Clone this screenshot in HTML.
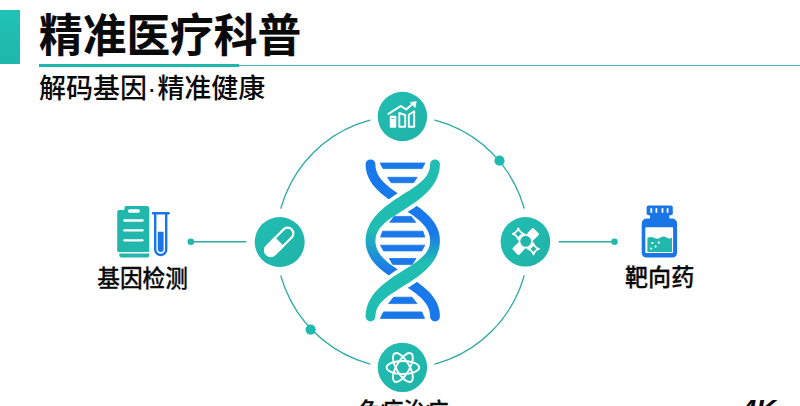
<!DOCTYPE html>
<html lang="zh-CN">
<head>
<meta charset="utf-8">
<title>精准医疗科普</title>
<style>
html,body{margin:0;padding:0;background:#fff;}
body{width:800px;height:406px;overflow:hidden;position:relative;font-family:"Liberation Sans","Noto Sans CJK SC",sans-serif;color:#0a0a0a;}
.bar{position:absolute;left:0;top:9.8px;width:20.2px;height:54.3px;background:linear-gradient(180deg,#21c2b6,#1fb7ab);}
.rule{position:absolute;left:39px;top:63.6px;width:200.3px;height:3px;background:#20b5ab;}
.rule2{position:absolute;left:39px;top:64.6px;width:761px;height:1px;background:#40b8bc;}
.title{position:absolute;left:39px;top:4.7px;font-size:43.7px;font-weight:700;line-height:64px;white-space:nowrap;transform:scaleY(1.04);transform-origin:0 51px;-webkit-text-stroke:0.15px #0a0a0a;}
.sub{position:absolute;left:39px;top:69.3px;font-size:27px;font-weight:500;line-height:40px;white-space:nowrap;transform:scaleY(1.03);transform-origin:0 31px;}
.lbl{position:absolute;font-size:23.4px;font-weight:500;-webkit-text-stroke:0.25px #0a0a0a;line-height:30px;white-space:nowrap;transform:translateX(-50%) scaleY(1.035);transform-origin:50% 25px;}
.k4{position:absolute;left:741.3px;top:395.2px;font-size:27px;font-weight:700;font-style:italic;line-height:30px;}
svg{position:absolute;left:0;top:0;}
</style>
</head>
<body>
<div class="bar"></div>
<div class="rule2"></div>
<div class="rule"></div>
<div class="title">精准医疗科普</div>
<div class="sub">解码基因<span style="margin:0 1.2px 0 0.2px">·</span>精准健康</div>

<svg width="800" height="406" viewBox="0 0 800 406">
<defs>
<linearGradient id="gA" gradientUnits="userSpaceOnUse" x1="0" y1="234" x2="0" y2="262">
<stop offset="0" stop-color="#1a79ea"/><stop offset="1" stop-color="#20bdb2"/>
</linearGradient>
<linearGradient id="gB" gradientUnits="userSpaceOnUse" x1="0" y1="230" x2="0" y2="270">
<stop offset="0" stop-color="#20bdb2"/><stop offset="1" stop-color="#1a79ea"/>
</linearGradient>
<linearGradient id="gBlue" gradientUnits="userSpaceOnUse" x1="0" y1="160" x2="0" y2="322">
<stop offset="0" stop-color="#1a79ea"/><stop offset="1" stop-color="#1a77e8"/>
</linearGradient>
<linearGradient id="gCirc" x1="0" y1="0" x2="1" y2="1">
<stop offset="0" stop-color="#22bdb2"/><stop offset="1" stop-color="#1fb3a9"/>
</linearGradient>
<clipPath id="cx1"><rect x="360" y="184" width="90" height="37"/></clipPath>
<clipPath id="cx2"><rect x="360" y="260" width="90" height="37"/></clipPath>
</defs>

<!-- ring -->
<g fill="none" stroke="#2aa9a6" stroke-width="1.3">
<circle cx="402.5" cy="242" r="126.2" stroke-dasharray="none"/>
</g>
<!-- white masks around small circles to create gaps -->
<g fill="#fff">
<circle cx="402.4" cy="116.5" r="32.3"/>
<circle cx="402.4" cy="367.4" r="32.3"/>
<circle cx="279.7" cy="242" r="33.6"/>
<circle cx="525.4" cy="242" r="33.6"/>
</g>
<!-- connectors -->
<g stroke="#2aa9a6" stroke-width="1.5" fill="#20b9ae">
<line x1="190.8" y1="241.7" x2="246.3" y2="241.7"/>
<line x1="558.6" y1="241.7" x2="614.5" y2="241.7"/>
</g>
<g fill="#20b9ae">
<circle cx="190.8" cy="241.8" r="3.3"/>
<circle cx="614.5" cy="241.8" r="3.3"/>
<circle cx="499.5" cy="160.7" r="5.1"/>
<circle cx="310.6" cy="329.7" r="5.1"/>
</g>
<!-- node circles -->
<g fill="url(#gCirc)">
<circle cx="402.4" cy="116.5" r="24.7"/>
<circle cx="402.4" cy="367.4" r="24.7"/>
<circle cx="279.7" cy="242" r="25"/>
<circle cx="525.4" cy="241.8" r="24.8"/>
</g>

<!-- DNA -->
<g>
<g stroke-linejoin="round">
<path d="M365.60 164.30A4.90 4.90 0 0 1 375.40 164.30L375.50 166.42L375.78 168.43L376.25 170.36L376.88 172.22L377.68 174.04L378.65 175.81L379.78 177.55L381.07 179.26L382.50 180.94L384.09 182.61L385.81 184.24L387.65 185.86L389.60 187.46L391.66 189.04L393.81 190.60L396.03 192.16L398.32 193.70L400.67 195.25L403.05 196.79L405.46 198.35L407.88 199.91L410.31 201.49L412.73 203.09L415.13 204.72L417.49 206.39L419.82 208.10L422.08 209.86L424.28 211.67L426.40 213.56L428.43 215.51L430.35 217.55L432.15 219.69L433.81 221.92L435.31 224.27L436.64 226.74L437.77 229.32L438.68 232.02L439.35 234.84L439.76 237.77L439.90 240.80L439.77 243.83L439.39 246.76L438.77 249.59L437.92 252.32L436.86 254.95L435.61 257.47L434.18 259.89L432.59 262.22L430.86 264.45L429.01 266.59L427.04 268.65L424.97 270.63L422.82 272.54L420.59 274.39L418.29 276.17L415.95 277.89L413.57 279.57L411.17 281.19L408.75 282.77L406.33 284.32L403.91 285.83L401.52 287.31L399.17 288.77L396.86 290.22L394.61 291.66L392.43 293.10L390.34 294.54L388.34 295.99L386.44 297.46L384.66 298.94L383.02 300.46L381.51 302.01L380.15 303.60L378.94 305.23L377.90 306.92L377.03 308.67L376.34 310.48L375.82 312.39L375.51 314.39L375.40 316.50A4.90 4.90 0 0 1 365.60 316.50L365.73 313.47L366.11 310.54L366.73 307.71L367.58 304.98L368.64 302.35L369.89 299.83L371.32 297.41L372.91 295.08L374.64 292.85L376.49 290.71L378.46 288.65L380.53 286.67L382.68 284.76L384.91 282.91L387.21 281.13L389.55 279.41L391.93 277.73L394.33 276.11L396.75 274.53L399.17 272.98L401.59 271.47L403.98 269.99L406.33 268.53L408.64 267.08L410.89 265.64L413.07 264.20L415.16 262.76L417.16 261.31L419.06 259.84L420.84 258.36L422.48 256.84L423.99 255.29L425.35 253.70L426.56 252.07L427.60 250.38L428.47 248.63L429.16 246.82L429.68 244.91L429.99 242.91L430.10 240.80L430.00 238.68L429.72 236.67L429.25 234.74L428.62 232.88L427.82 231.06L426.85 229.29L425.72 227.55L424.43 225.84L423.00 224.16L421.41 222.49L419.69 220.86L417.85 219.24L415.90 217.64L413.84 216.06L411.69 214.50L409.47 212.94L407.18 211.40L404.83 209.85L402.45 208.31L400.04 206.75L397.62 205.19L395.19 203.61L392.77 202.01L390.37 200.38L388.01 198.71L385.68 197.00L383.42 195.24L381.22 193.43L379.10 191.54L377.07 189.59L375.15 187.55L373.35 185.41L371.69 183.18L370.19 180.83L368.86 178.36L367.73 175.78L366.82 173.08L366.15 170.26L365.74 167.33L365.60 164.30Z" fill="url(#gA)"/>
<path d="M430.10 164.30A4.90 4.90 0 0 1 439.90 164.30L439.77 167.33L439.39 170.27L438.77 173.10L437.92 175.84L436.86 178.47L435.62 181.01L434.19 183.44L432.61 185.78L430.88 188.03L429.03 190.19L427.07 192.27L425.00 194.27L422.85 196.21L420.63 198.08L418.34 199.89L416.00 201.64L413.62 203.35L411.22 205.00L408.80 206.61L406.38 208.18L403.96 209.73L401.57 211.24L399.22 212.73L396.91 214.21L394.65 215.68L392.47 217.14L390.37 218.61L388.37 220.09L386.47 221.58L384.69 223.09L383.04 224.63L381.53 226.21L380.16 227.82L378.95 229.47L377.91 231.17L377.03 232.94L376.34 234.77L375.83 236.68L375.51 238.68L375.40 240.80L375.50 242.91L375.78 244.92L376.25 246.84L376.88 248.69L377.68 250.49L378.64 252.25L379.77 253.97L381.05 255.66L382.49 257.32L384.07 258.96L385.78 260.57L387.62 262.16L389.57 263.74L391.63 265.29L393.78 266.83L396.00 268.35L398.29 269.87L400.63 271.38L403.01 272.90L405.42 274.42L407.84 275.95L410.27 277.50L412.69 279.08L415.09 280.68L417.46 282.32L419.78 284.00L422.05 285.73L424.26 287.52L426.38 289.38L428.41 291.32L430.33 293.34L432.13 295.45L433.80 297.67L435.31 300.01L436.64 302.46L437.77 305.03L438.68 307.73L439.35 310.55L439.76 313.47L439.90 316.50A4.90 4.90 0 0 1 430.10 316.50L430.00 314.39L429.72 312.38L429.25 310.46L428.62 308.61L427.82 306.81L426.86 305.05L425.73 303.33L424.45 301.64L423.01 299.98L421.43 298.34L419.72 296.73L417.88 295.14L415.93 293.56L413.87 292.01L411.72 290.47L409.50 288.95L407.21 287.43L404.87 285.92L402.49 284.40L400.08 282.88L397.66 281.35L395.23 279.80L392.81 278.22L390.41 276.62L388.04 274.98L385.72 273.30L383.45 271.57L381.24 269.78L379.12 267.92L377.09 265.98L375.17 263.96L373.37 261.85L371.70 259.63L370.19 257.29L368.86 254.84L367.73 252.27L366.82 249.57L366.15 246.75L365.74 243.83L365.60 240.80L365.73 237.77L366.11 234.83L366.73 232.00L367.58 229.26L368.64 226.63L369.88 224.09L371.31 221.66L372.89 219.32L374.62 217.07L376.47 214.91L378.43 212.83L380.50 210.83L382.65 208.89L384.87 207.02L387.16 205.21L389.50 203.46L391.88 201.75L394.28 200.10L396.70 198.49L399.12 196.92L401.54 195.37L403.93 193.86L406.28 192.37L408.59 190.89L410.85 189.42L413.03 187.96L415.13 186.49L417.13 185.01L419.03 183.52L420.81 182.01L422.46 180.47L423.97 178.89L425.34 177.28L426.55 175.63L427.59 173.93L428.47 172.16L429.16 170.33L429.67 168.42L429.99 166.42L430.10 164.30Z" fill="url(#gB)"/>
<g clip-path="url(#cx1)"><path d="M430.10 164.30A4.90 4.90 0 0 1 439.90 164.30L439.77 167.33L439.39 170.27L438.77 173.10L437.92 175.84L436.86 178.47L435.62 181.01L434.19 183.44L432.61 185.78L430.88 188.03L429.03 190.19L427.07 192.27L425.00 194.27L422.85 196.21L420.63 198.08L418.34 199.89L416.00 201.64L413.62 203.35L411.22 205.00L408.80 206.61L406.38 208.18L403.96 209.73L401.57 211.24L399.22 212.73L396.91 214.21L394.65 215.68L392.47 217.14L390.37 218.61L388.37 220.09L386.47 221.58L384.69 223.09L383.04 224.63L381.53 226.21L380.16 227.82L378.95 229.47L377.91 231.17L377.03 232.94L376.34 234.77L375.83 236.68L375.51 238.68L375.40 240.80L375.50 242.91L375.78 244.92L376.25 246.84L376.88 248.69L377.68 250.49L378.64 252.25L379.77 253.97L381.05 255.66L382.49 257.32L384.07 258.96L385.78 260.57L387.62 262.16L389.57 263.74L391.63 265.29L393.78 266.83L396.00 268.35L398.29 269.87L400.63 271.38L403.01 272.90L405.42 274.42L407.84 275.95L410.27 277.50L412.69 279.08L415.09 280.68L417.46 282.32L419.78 284.00L422.05 285.73L424.26 287.52L426.38 289.38L428.41 291.32L430.33 293.34L432.13 295.45L433.80 297.67L435.31 300.01L436.64 302.46L437.77 305.03L438.68 307.73L439.35 310.55L439.76 313.47L439.90 316.50A4.90 4.90 0 0 1 430.10 316.50L430.00 314.39L429.72 312.38L429.25 310.46L428.62 308.61L427.82 306.81L426.86 305.05L425.73 303.33L424.45 301.64L423.01 299.98L421.43 298.34L419.72 296.73L417.88 295.14L415.93 293.56L413.87 292.01L411.72 290.47L409.50 288.95L407.21 287.43L404.87 285.92L402.49 284.40L400.08 282.88L397.66 281.35L395.23 279.80L392.81 278.22L390.41 276.62L388.04 274.98L385.72 273.30L383.45 271.57L381.24 269.78L379.12 267.92L377.09 265.98L375.17 263.96L373.37 261.85L371.70 259.63L370.19 257.29L368.86 254.84L367.73 252.27L366.82 249.57L366.15 246.75L365.74 243.83L365.60 240.80L365.73 237.77L366.11 234.83L366.73 232.00L367.58 229.26L368.64 226.63L369.88 224.09L371.31 221.66L372.89 219.32L374.62 217.07L376.47 214.91L378.43 212.83L380.50 210.83L382.65 208.89L384.87 207.02L387.16 205.21L389.50 203.46L391.88 201.75L394.28 200.10L396.70 198.49L399.12 196.92L401.54 195.37L403.93 193.86L406.28 192.37L408.59 190.89L410.85 189.42L413.03 187.96L415.13 186.49L417.13 185.01L419.03 183.52L420.81 182.01L422.46 180.47L423.97 178.89L425.34 177.28L426.55 175.63L427.59 173.93L428.47 172.16L429.16 170.33L429.67 168.42L429.99 166.42L430.10 164.30Z" fill="url(#gB)" stroke="#fff" stroke-width="7.6" paint-order="stroke"/></g>
<g clip-path="url(#cx2)"><path d="M365.60 164.30A4.90 4.90 0 0 1 375.40 164.30L375.50 166.42L375.78 168.43L376.25 170.36L376.88 172.22L377.68 174.04L378.65 175.81L379.78 177.55L381.07 179.26L382.50 180.94L384.09 182.61L385.81 184.24L387.65 185.86L389.60 187.46L391.66 189.04L393.81 190.60L396.03 192.16L398.32 193.70L400.67 195.25L403.05 196.79L405.46 198.35L407.88 199.91L410.31 201.49L412.73 203.09L415.13 204.72L417.49 206.39L419.82 208.10L422.08 209.86L424.28 211.67L426.40 213.56L428.43 215.51L430.35 217.55L432.15 219.69L433.81 221.92L435.31 224.27L436.64 226.74L437.77 229.32L438.68 232.02L439.35 234.84L439.76 237.77L439.90 240.80L439.77 243.83L439.39 246.76L438.77 249.59L437.92 252.32L436.86 254.95L435.61 257.47L434.18 259.89L432.59 262.22L430.86 264.45L429.01 266.59L427.04 268.65L424.97 270.63L422.82 272.54L420.59 274.39L418.29 276.17L415.95 277.89L413.57 279.57L411.17 281.19L408.75 282.77L406.33 284.32L403.91 285.83L401.52 287.31L399.17 288.77L396.86 290.22L394.61 291.66L392.43 293.10L390.34 294.54L388.34 295.99L386.44 297.46L384.66 298.94L383.02 300.46L381.51 302.01L380.15 303.60L378.94 305.23L377.90 306.92L377.03 308.67L376.34 310.48L375.82 312.39L375.51 314.39L375.40 316.50A4.90 4.90 0 0 1 365.60 316.50L365.73 313.47L366.11 310.54L366.73 307.71L367.58 304.98L368.64 302.35L369.89 299.83L371.32 297.41L372.91 295.08L374.64 292.85L376.49 290.71L378.46 288.65L380.53 286.67L382.68 284.76L384.91 282.91L387.21 281.13L389.55 279.41L391.93 277.73L394.33 276.11L396.75 274.53L399.17 272.98L401.59 271.47L403.98 269.99L406.33 268.53L408.64 267.08L410.89 265.64L413.07 264.20L415.16 262.76L417.16 261.31L419.06 259.84L420.84 258.36L422.48 256.84L423.99 255.29L425.35 253.70L426.56 252.07L427.60 250.38L428.47 248.63L429.16 246.82L429.68 244.91L429.99 242.91L430.10 240.80L430.00 238.68L429.72 236.67L429.25 234.74L428.62 232.88L427.82 231.06L426.85 229.29L425.72 227.55L424.43 225.84L423.00 224.16L421.41 222.49L419.69 220.86L417.85 219.24L415.90 217.64L413.84 216.06L411.69 214.50L409.47 212.94L407.18 211.40L404.83 209.85L402.45 208.31L400.04 206.75L397.62 205.19L395.19 203.61L392.77 202.01L390.37 200.38L388.01 198.71L385.68 197.00L383.42 195.24L381.22 193.43L379.10 191.54L377.07 189.59L375.15 187.55L373.35 185.41L371.69 183.18L370.19 180.83L368.86 178.36L367.73 175.78L366.82 173.08L366.15 170.26L365.74 167.33L365.60 164.30Z" fill="url(#gA)" stroke="#fff" stroke-width="7.6" paint-order="stroke"/></g>
</g>
<path d="M380.1 163.0L424.9 163.0L422.2 168.6L383.0 168.6Z" fill="url(#gBlue)" stroke="url(#gBlue)" stroke-width="0.8" stroke-linejoin="round"/>
<path d="M387.5 177.3L417.2 177.3L413.5 182.7L391.2 182.7Z" fill="url(#gBlue)" stroke="url(#gBlue)" stroke-width="0.8" stroke-linejoin="round"/>
<path d="M394.1 216.4L411.3 216.4L415.8 222.3L389.7 222.3Z" fill="url(#gBlue)" stroke="url(#gBlue)" stroke-width="0.8" stroke-linejoin="round"/>
<path d="M382.6 231.2L422.9 231.2L424.8 237.1L380.6 237.1Z" fill="url(#gBlue)" stroke="url(#gBlue)" stroke-width="0.8" stroke-linejoin="round"/>
<path d="M380.4 245.2L424.8 245.2L421.8 250.9L383.6 250.9Z" fill="url(#gBlue)" stroke="url(#gBlue)" stroke-width="0.8" stroke-linejoin="round"/>
<path d="M389.3 258.5L416.0 258.5L412.2 264.4L392.7 264.4Z" fill="url(#gBlue)" stroke="url(#gBlue)" stroke-width="0.8" stroke-linejoin="round"/>
<path d="M393.7 297.2L412.0 297.2L417.0 303.6L388.6 303.6Z" fill="url(#gBlue)" stroke="url(#gBlue)" stroke-width="0.8" stroke-linejoin="round"/>
<path d="M383.6 311.9L421.8 311.9L424.6 318.4L380.4 318.4Z" fill="url(#gBlue)" stroke="url(#gBlue)" stroke-width="0.8" stroke-linejoin="round"/>

</g>

<!-- top icon: chart -->
<g fill="none" stroke="#fff" stroke-linejoin="round" stroke-linecap="round">
<rect x="389.8" y="115.7" width="6.5" height="12" rx="0.7" fill="#fff" stroke="none"/>
<rect x="391.3" y="118.2" width="3.4" height="0.8" fill="#38c0b6" stroke="none"/>
<path d="M399.3 126.8V113L405.2 115V126.8Z" stroke-width="1.9"/>
<path d="M408.8 126.8V114.7L414.2 111.2V126.8Z" stroke-width="1.9"/>
<path d="M388.5 113.8L400.7 106L406.1 109.4L413 103.7" stroke-width="2"/>
<path d="M410.4 102.4L416.3 101.4L415.2 107.4Z" fill="#fff" stroke-width="0.6"/>
</g>
<!-- left node: pill -->
<g transform="translate(279.2 241.8) rotate(-45)">
<rect x="-17.6" y="-5.7" width="35.2" height="11.4" rx="5.7" fill="none" stroke="#fff" stroke-width="2.2"/>
<path d="M0.3 -6.8H-11.9A6.8 6.8 0 0 0 -11.9 6.8H0.3Z" fill="#fff"/>
</g>
<!-- right node: molecule X -->
<g>
<rect x="-4.7" y="-4.7" width="9.4" height="9.4" rx="1.5" fill="#fff" transform="translate(532.9 234.2) rotate(45)"/>
<rect x="-4.7" y="-4.7" width="9.4" height="9.4" rx="1.5" fill="#fff" transform="translate(518.5 248.8) rotate(45)"/>
<path d="M0 -5.5Q1.3 -1.3 5.5 0Q1.3 1.3 0 5.5Q-1.3 1.3 -5.5 0Q-1.3 -1.3 0 -5.5Z" fill="#20b7ac" stroke="#fff" stroke-width="1.8" stroke-linejoin="round" transform="translate(518.3 233.8)"/>
<path d="M0 -5.5Q1.3 -1.3 5.5 0Q1.3 1.3 0 5.5Q-1.3 1.3 -5.5 0Q-1.3 -1.3 0 -5.5Z" fill="#20b7ac" stroke="#fff" stroke-width="1.8" stroke-linejoin="round" transform="translate(533.5 248.9)"/>
<circle cx="525.7" cy="241.3" r="6.4" fill="#20b7ac" stroke="#fff" stroke-width="1.9"/>
</g>
<!-- bottom node: atom -->
<g fill="none" stroke="#fff" stroke-width="1.9" transform="translate(402.9 367.5)">
<ellipse rx="16.3" ry="6.5"/>
<ellipse rx="16.3" ry="6.5" transform="rotate(60)"/>
<ellipse rx="16.3" ry="6.5" transform="rotate(-60)"/>
</g>
<!-- left icon: clipboard + test tube -->
<g>
<path d="M119.2 209.9H124.4V208.1A2 2 0 0 1 126.4 206.1H146.7A2.6 2.6 0 0 1 149.3 208.7V250.4A1.6 1.6 0 0 1 147.7 252H118.8A1.6 1.6 0 0 1 117.2 250.4V211.9A2 2 0 0 1 119.2 209.9Z" fill="#21b7ad"/>
<path d="M119.3 253.6H149.3V255.6A1.8 1.8 0 0 1 147.5 257.4H121.1A1.8 1.8 0 0 1 119.3 255.6Z" fill="#21b7ad"/>
<rect x="127.9" y="209.2" width="12.2" height="3.6" rx="1.8" fill="#fff"/>
<g stroke="#fff" stroke-width="2.3" stroke-linecap="round">
<line x1="124.3" y1="220.5" x2="142.6" y2="220.5"/>
<line x1="124.3" y1="230.4" x2="142.6" y2="230.4"/>
<line x1="124.3" y1="240.3" x2="142.6" y2="240.3"/>
</g>
<g fill="none" stroke="#1a76e6" stroke-width="2.4" stroke-linecap="round">
<line x1="153" y1="213.2" x2="168.6" y2="213.2"/>
<path d="M155.2 213.4V249.5A5.5 5.5 0 0 0 166.2 249.5V213.4"/>
</g>
<path d="M157.8 231.8H163.6V249A2.9 2.9 0 0 1 157.8 249Z" fill="#1a76e6"/>
</g>
<!-- right icon: bottle -->
<g>
<rect x="646.6" y="205.4" width="26.2" height="9.8" rx="2" fill="#1a76e6"/>
<rect x="650" y="214" width="19.3" height="6" fill="#1a76e6"/>
<rect x="641.7" y="218.6" width="35.4" height="39" rx="5" fill="#1a76e6"/>
<rect x="645.3" y="227.2" width="27.8" height="25.9" rx="0.8" fill="#fff"/>
<g fill="#fff">
<rect x="650.4" y="208" width="1.8" height="5" rx="0.8"/>
<rect x="655.5" y="208" width="1.8" height="5" rx="0.8"/>
<rect x="661.6" y="208" width="1.8" height="5" rx="0.8"/>
<rect x="666.7" y="208" width="1.8" height="5" rx="0.8"/>
</g>
<path d="M647.4 252V237.8C650 236.8 652 236.8 654 237.8C656.5 239 658.5 239 660.5 237.5C662.5 236 664.5 236 666.5 237.5C668.5 239 670.5 238.6 672 237.8V252Z" fill="#21b7ad"/>
<g fill="#fff">
<circle cx="652.4" cy="243" r="1.1"/><circle cx="658.8" cy="242.7" r="1.1"/><circle cx="655.6" cy="246.6" r="1.1"/><circle cx="651.2" cy="248.6" r="1"/>
</g>
</g>

</svg>

<div class="lbl" style="left:142.6px;top:263.6px;font-size:22.7px;">基因检测</div>
<div class="lbl" style="left:659.6px;top:263.1px;font-size:23.1px;">靶向药</div>
<div class="lbl" style="left:403.3px;top:397.6px;font-size:22.6px;">免疫治疗</div>
<div class="k4">4K</div>
</body>
</html>
